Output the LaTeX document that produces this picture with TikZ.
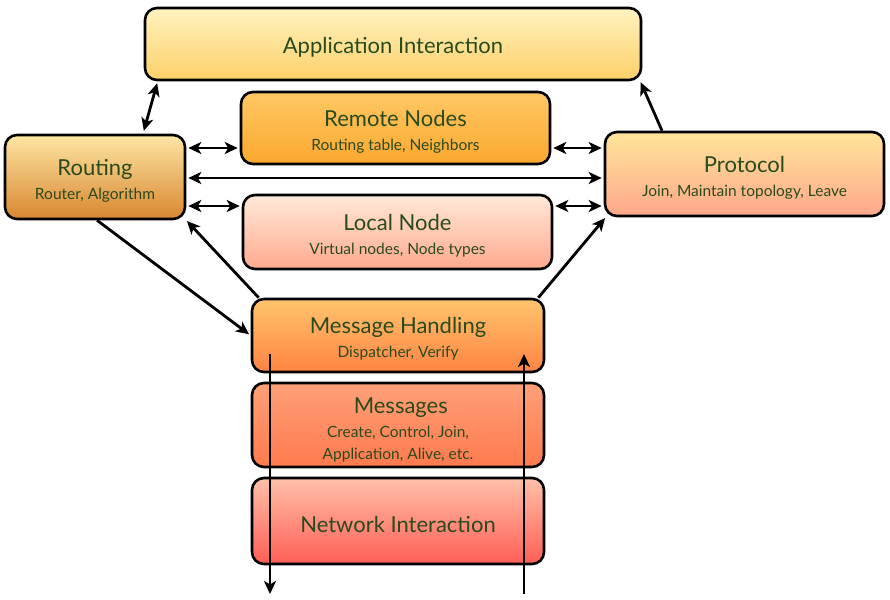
\documentclass[tikz,border=0pt]{standalone}
\usepackage{fontspec}
\setmainfont{Lato}
\usetikzlibrary{arrows.meta}
\definecolor{txt}{HTML}{2B4A1C}
\definecolor{appT}{HTML}{FFF3C0}\definecolor{appB}{HTML}{FDD06A}
\definecolor{remT}{HTML}{FFC864}\definecolor{remB}{HTML}{FBA82E}
\definecolor{rouT}{HTML}{FDE6A4}\definecolor{rouB}{HTML}{D9862F}
\definecolor{proT}{HTML}{FFE59A}\definecolor{proB}{HTML}{FFA78B}
\definecolor{locT}{HTML}{FFE9D8}\definecolor{locB}{HTML}{FFA98E}
\definecolor{mhT}{HTML}{FFC46E}\definecolor{mhB}{HTML}{FF8444}
\definecolor{msgT}{HTML}{FFA078}\definecolor{msgB}{HTML}{FF7A4E}
\definecolor{netT}{HTML}{FFC0A8}\definecolor{netB}{HTML}{FF5E55}
\newcommand{\ttlf}{\fontsize{22}{24}\selectfont\rule{0pt}{23pt}}
\newcommand{\subf}{\fontsize{15.5}{24}\selectfont}
\tikzset{
  box/.style={draw=black, line width=2.6pt, rounded corners=12pt, inner sep=0pt,
    align=center, text=txt, font=\subf},
  con/.style={line width=2.8pt, -{Stealth[length=13pt,width=12pt,inset=3.5pt]}},
  dbl/.style={line width=2.8pt, {Stealth[length=13pt,width=12pt,inset=3.5pt]}-{Stealth[length=13pt,width=12pt,inset=3.5pt]}, shorten <=2pt, shorten >=2pt},
}
\begin{document}
\begin{tikzpicture}[x=1pt,y=-1pt]
\useasboundingbox (0,0) rectangle (890,599);
\node[box, minimum width=496pt, minimum height=72pt, top color=appT, bottom color=appB] (app) at (393,44) {\ttlf Application Interaction};
\node[box, minimum width=309pt, minimum height=72pt, top color=remT, bottom color=remB] (remote) at (395.5,128) {\ttlf Remote Nodes\\\subf Routing table, Neighbors};
\node[box, minimum width=180pt, minimum height=84pt, top color=rouT, bottom color=rouB] (routing) at (95,177) {\ttlf Routing\\\subf Router, Algorithm};
\node[box, minimum width=279pt, minimum height=84pt, top color=proT, bottom color=proB] (protocol) at (744.5,174) {\ttlf Protocol\\\subf Join, Maintain topology, Leave};
\node[box, minimum width=309pt, minimum height=74pt, top color=locT, bottom color=locB] (local) at (397.5,232) {\ttlf Local Node\\\subf Virtual nodes, Node types};
\node[box, minimum width=292pt, minimum height=73pt, top color=mhT, bottom color=mhB] (mh) at (398,335.5) {\ttlf Message Handling\\\subf Dispatcher, Verify};
\node[box, minimum width=292pt, minimum height=84pt, top color=msgT, bottom color=msgB] (msgs) at (398,425) {\ttlf\rule{0pt}{26pt} Messages\\\subf Create, Control, Join,\\[-2pt]\subf Application, Alive, etc.};
\node[box, minimum width=292pt, minimum height=86pt, top color=netT, bottom color=netB] (net) at (398,521) {\ttlf Network Interaction};
% levels
\coordinate (yA) at (0,148);
\coordinate (yB) at (0,178);
\coordinate (yC) at (0,206);
\draw[dbl] (routing.east |- yA) -- (remote.west |- yA);
\draw[dbl] (remote.east |- yA) -- (protocol.west |- yA);
\draw[dbl] (routing.east |- yB) -- (protocol.west |- yB);
\draw[dbl] (routing.east |- yC) -- (local.west |- yC);
\draw[dbl] (local.east |- yC) -- (protocol.west |- yC);
\draw[dbl,shorten <=3pt] ([xshift=48pt]routing.north) -- ([xshift=14pt]app.south west);
\draw[con,shorten >=1pt] ([xshift=-82.5pt]protocol.north) -- ([xshift=-2pt]app.south east);
\draw[con,shorten >=2pt] ([xshift=2pt]routing.south) -- (mh.west);
\draw[con,shorten >=1pt] ([xshift=8pt]mh.north west) -- (routing.south east);
\draw[con,shorten >=1pt] ([xshift=-7pt]mh.north east) -- ([xshift=2pt]protocol.south west);
\coordinate (d0) at (270,354);
\coordinate (d1) at (270,594);
\coordinate (u0) at (524,594);
\coordinate (u1) at (524,354);
\draw[con] (d0) -- (d1);
\draw[con] (u0) -- (u1);
\end{tikzpicture}
\end{document}
